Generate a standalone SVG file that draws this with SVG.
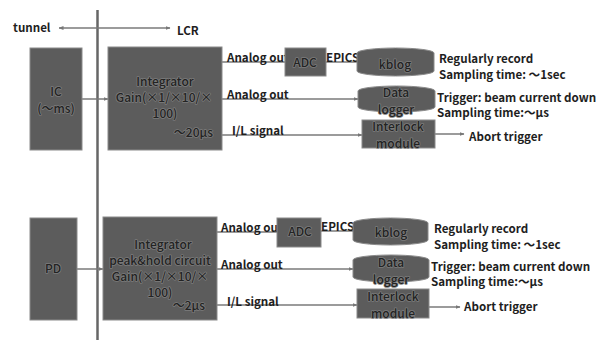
<svg xmlns="http://www.w3.org/2000/svg" width="603" height="340" viewBox="0 0 603 340">
<defs>
<marker id="ah" viewBox="0 0 10 10" refX="9" refY="5" markerWidth="5" markerHeight="5" orient="auto-start-reverse" markerUnits="userSpaceOnUse">
<path d="M0,1 L10,5 L0,9 z" fill="#777"/>
</marker>
<style>
.box{fill:#5c5c5c;stroke:#8a8a8a;stroke-width:1}
.in{font-family:"Noto Sans CJK JP","Noto Sans",sans-serif;font-size:12px;font-weight:500;fill:#232323;stroke:#7c7c7c;stroke-width:1.5px;paint-order:stroke;stroke-linejoin:round;text-anchor:middle}
.lb{font-family:"Noto Sans CJK JP","Noto Sans",sans-serif;font-size:11.6px;font-weight:bold;fill:#1e1e1e}
.ln{stroke:#7a7a7a;stroke-width:1.5;fill:none}
.ar{stroke:#7a7a7a;stroke-width:1.5;fill:none;marker-end:url(#ah)}
</style>
</defs>
<rect width="603" height="340" fill="#fff"/>

<g id="connectors">
<line x1="97.5" y1="10" x2="97.5" y2="340" stroke="#666" stroke-width="2.5"/>
<line x1="97" y1="28" x2="59" y2="28" class="ar"/>
<line x1="97" y1="28" x2="170" y2="28" class="ar"/>
<line x1="82" y1="99" x2="108" y2="99" class="ar"/>
<line x1="222" y1="62" x2="285" y2="62" class="ln"/>
<line x1="326" y1="62" x2="358" y2="62" class="ln"/>
<line x1="222" y1="99" x2="358" y2="99" class="ar"/>
<line x1="222" y1="135" x2="362" y2="135" class="ar"/>
<line x1="435" y1="134" x2="464" y2="134" class="ar"/>
<line x1="77" y1="269" x2="103" y2="269" class="ar"/>
<line x1="217" y1="232" x2="277" y2="232" class="ln"/>
<line x1="321" y1="231" x2="354" y2="231" class="ln"/>
<line x1="217" y1="269" x2="353" y2="269" class="ar"/>
<line x1="217" y1="305" x2="357" y2="305" class="ar"/>
<line x1="429" y1="307" x2="460" y2="307" class="ar"/>
</g>

<g id="labels">
<text class="lb" x="13" y="32">tunnel</text>
<text class="lb" x="177" y="35">LCR</text>
<text class="lb" x="227" y="62">Analog out</text>
<text class="lb" x="326" y="62">EPICS</text>
<text class="lb" x="227" y="99">Analog out</text>
<text class="lb" x="232" y="135">I/L signal</text>
<text class="lb" x="439" y="63">Regularly record</text>
<text class="lb" x="439" y="79">Sampling time: ～1sec</text>
<text class="lb" x="437" y="102">Trigger: beam current down</text>
<text class="lb" x="437" y="117">Sampling time:～µs</text>
<text class="lb" x="469" y="141">Abort trigger</text>
<text class="lb" x="221" y="232">Analog out</text>
<text class="lb" x="321" y="231">EPICS</text>
<text class="lb" x="221" y="269">Analog out</text>
<text class="lb" x="227" y="306">I/L signal</text>
<text class="lb" x="434" y="233">Regularly record</text>
<text class="lb" x="434" y="249">Sampling time: ～1sec</text>
<text class="lb" x="431" y="271">Trigger: beam current down</text>
<text class="lb" x="431" y="286">Sampling time:～µs</text>
<text class="lb" x="464" y="311">Abort trigger</text>
</g>

<g id="ic">
<rect class="box" x="30" y="48" width="52" height="102"/>
<text class="in" x="56" y="96">IC</text>
<text class="in" x="56" y="113">(～ms)</text>
</g>
<g id="integrator1">
<rect class="box" x="108" y="47" width="114" height="103"/>
<text class="in" x="165" y="86">Integrator</text>
<text class="in" x="164" y="102">Gain(×1/×10/×</text>
<text class="in" x="165" y="118">100)</text>
<text class="in" x="213" y="137" style="text-anchor:end">～20µs</text>
</g>
<g id="adc1">
<rect class="box" x="285" y="48" width="41" height="28"/>
<text class="in" x="305" y="67">ADC</text>
</g>
<g id="kblog1">
<path class="box" d="M357,53 A38.5,5 0 0 1 434,53 V71 A38.5,5 0 0 1 357,71 Z"/>
<text class="in" x="395" y="69">kblog</text>
</g>
<g id="datalogger1">
<path class="box" d="M358,91 A38.5,5 0 0 1 435,91 V107 A38.5,5 0 0 1 358,107 Z"/>
<text class="in" x="396" y="97">Data</text>
<text class="in" x="396" y="114">logger</text>
</g>
<g id="interlock1">
<rect class="box" x="362" y="120" width="73" height="28"/>
<text class="in" x="398" y="131">Interlock</text>
<text class="in" x="398" y="148">module</text>
</g>

<g id="pd">
<rect class="box" x="30" y="218" width="47" height="102"/>
<text class="in" x="53" y="273">PD</text>
</g>
<g id="integrator2">
<rect class="box" x="103" y="217" width="114" height="103"/>
<text class="in" x="163" y="249">Integrator</text>
<text class="in" x="160" y="265">peak&amp;hold circuit</text>
<text class="in" x="160" y="281">Gain(×1/×10/×</text>
<text class="in" x="160" y="297">100)</text>
<text class="in" x="205" y="310" style="text-anchor:end">～2µs</text>
</g>
<g id="adc2">
<rect class="box" x="277" y="218" width="44" height="29"/>
<text class="in" x="300" y="236">ADC</text>
</g>
<g id="kblog2">
<path class="box" d="M353,223 A37.5,5 0 0 1 428,223 V240 A37.5,5 0 0 1 353,240 Z"/>
<text class="in" x="391" y="237">kblog</text>
</g>
<g id="datalogger2">
<path class="box" d="M353,260 A38,5 0 0 1 429,260 V277 A38,5 0 0 1 353,277 Z"/>
<text class="in" x="391" y="267">Data</text>
<text class="in" x="391" y="284">logger</text>
</g>
<g id="interlock2">
<rect class="box" x="357" y="289" width="72" height="29"/>
<text class="in" x="393" y="301">Interlock</text>
<text class="in" x="393" y="318">module</text>
</g>
</svg>
